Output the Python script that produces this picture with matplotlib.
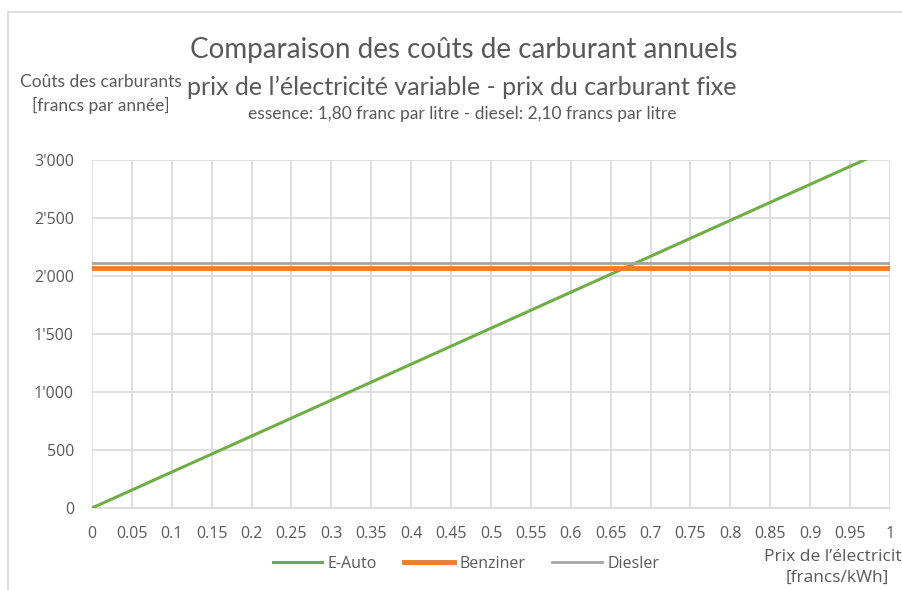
import matplotlib.pyplot as plt
from matplotlib.patches import Rectangle

plt.rcParams['font.family'] = ['Open Sans', 'DejaVu Sans']

# electricity price [francs/kWh]
prix = [0, 0.05, 0.1, 0.15, 0.2, 0.25, 0.3, 0.35, 0.4, 0.45, 0.5,
        0.55, 0.6, 0.65, 0.7, 0.75, 0.8, 0.85, 0.9, 0.95, 1]
x_labels = ['0', '0.05', '0.1', '0.15', '0.2', '0.25', '0.3', '0.35', '0.4', '0.45', '0.5',
            '0.55', '0.6', '0.65', '0.7', '0.75', '0.8', '0.85', '0.9', '0.95', '1']

# annual costs [francs]
e_auto = [0, 155, 310, 465, 620, 775, 930, 1085, 1240, 1395, 1550,
          1705, 1860, 2015, 2170, 2325, 2480, 2635, 2790, 2945, 3100]
benziner = [2065] * len(prix)
diesler = [2110] * len(prix)

y_ticks = [0, 500, 1000, 1500, 2000, 2500, 3000]
y_labels = ['0', '500', "1'000", "1'500", "2'000", "2'500", "3'000"]

grey_txt = '#595959'

fig = plt.figure(figsize=(9.03, 5.9), dpi=100)
ax = fig.add_axes([92/903, 82/590, 798/903, 348/590])

ax.plot(prix, e_auto, color='#70AD47', lw=2.2, label='E-Auto', zorder=3)
ax.plot(prix, benziner, color='#ED7D31', lw=3.5, label='Benziner', zorder=3)
ax.plot(prix, diesler, color='#A5A5A5', lw=2.0, label='Diesler', zorder=3)

ax.set_xlim(0, 1)
ax.set_ylim(0, 3000)
ax.set_xticks(prix)
ax.set_xticklabels(x_labels)
ax.set_yticks(y_ticks)
ax.set_yticklabels(y_labels)
ax.tick_params(length=0, labelsize=11.5, colors=grey_txt)
ax.tick_params(axis='x', pad=13)
ax.tick_params(axis='y', pad=13)
ax.grid(True, color='#D9D9D9', lw=1.2)
ax.set_axisbelow(True)
for s in ['top', 'right', 'left']:
    ax.spines[s].set_visible(False)
ax.spines['bottom'].set_color('#D9D9D9')
ax.spines['bottom'].set_linewidth(1.2)

ax.legend(loc='center', bbox_to_anchor=(466/903, 1 - 564/590), bbox_transform=fig.transFigure,
          ncol=3, frameon=False, fontsize=11.5, handlelength=3.1, columnspacing=1.7,
          labelcolor=grey_txt, handletextpad=0.35)

fig.text(464/903, 1 - 50/590, 'Comparaison des coûts de carburant annuels',
         ha='center', va='center', fontsize=20, color=grey_txt, family=['Lato', 'DejaVu Sans'])
fig.text(462/903, 1 - 87/590, 'prix de l\u2019électricité variable - prix du carburant fixe',
         ha='center', va='center', fontsize=18, color=grey_txt, family=['Lato', 'DejaVu Sans'])
fig.text(462/903, 1 - 114/590, 'essence: 1,80 franc par litre - diesel: 2,10 francs par litre',
         ha='center', va='center', fontsize=12.5, color=grey_txt, family=['Lato', 'DejaVu Sans'])

fig.text(101/903, 1 - 94/590, 'Coûts des carburants\n[francs par année]',
         ha='center', va='center', fontsize=12.5, color=grey_txt, linespacing=1.5,
         family=['Lato', 'DejaVu Sans'])
fig.text(764/903, 1 - 567/590, 'Prix de l\u2019électricité\n[francs/kWh]',
         ha='left', va='center', fontsize=12.5, color=grey_txt, linespacing=1.4,
         multialignment='center')

fig.patches.append(Rectangle((8/903, -0.1), 1.2, (590 - 12)/590 + 0.1,
                             transform=fig.transFigure, fill=False,
                             edgecolor='#D9D9D9', lw=1.2))

fig.savefig('out.png', dpi=100)
